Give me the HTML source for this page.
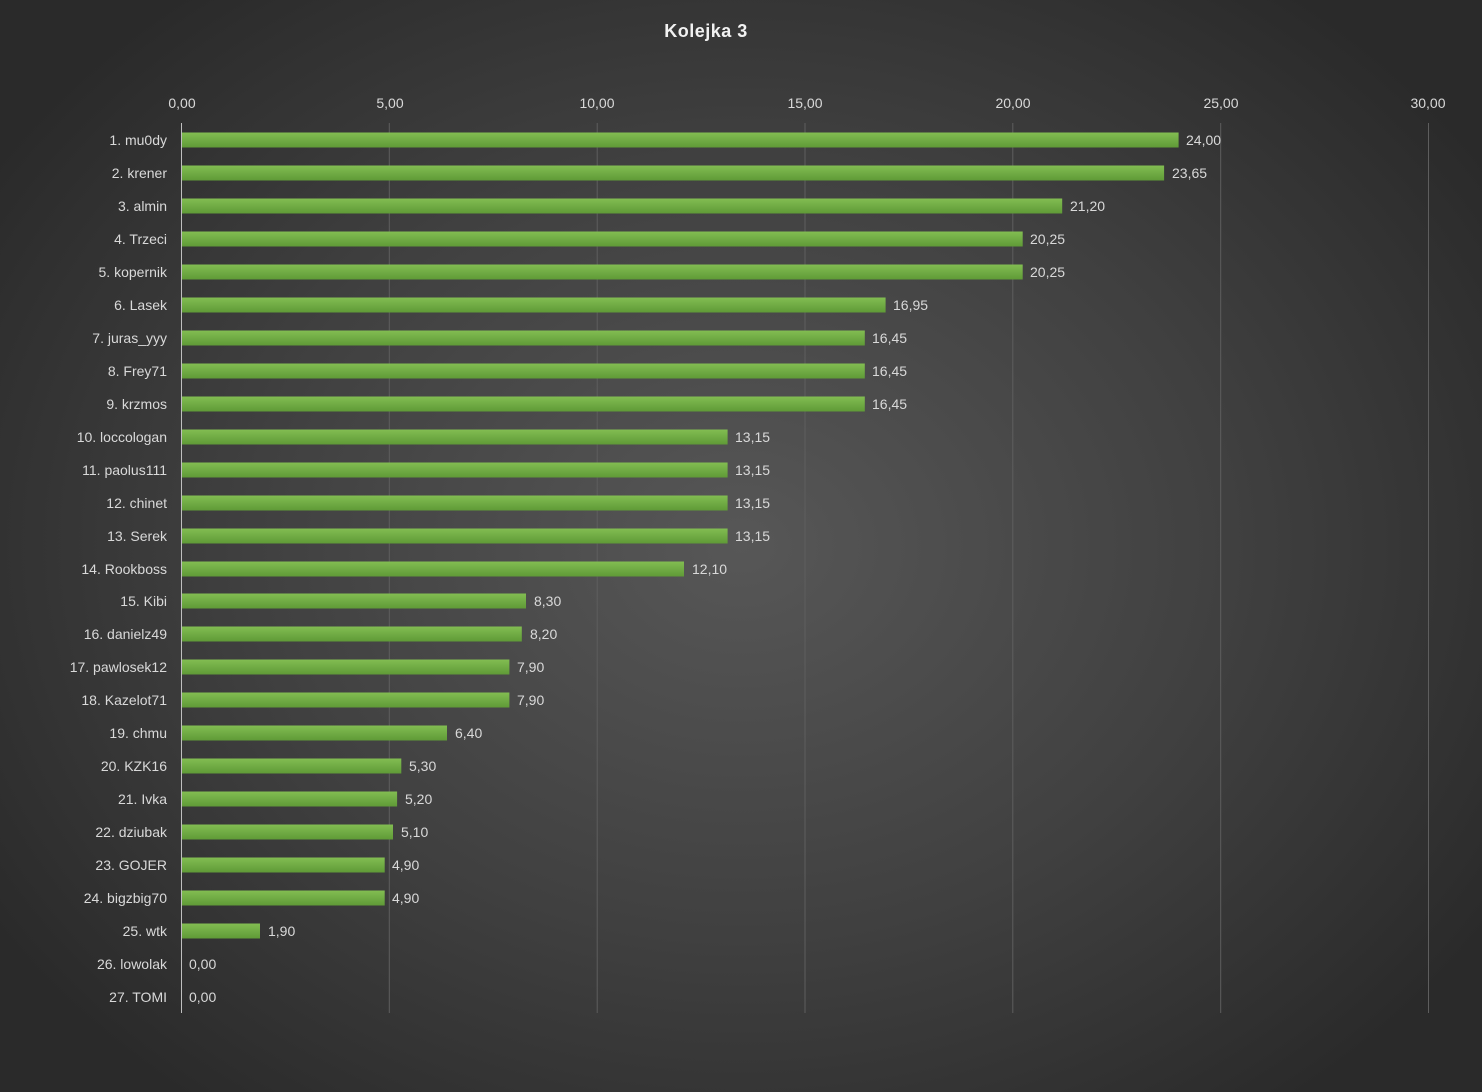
<!DOCTYPE html>
<html><head><meta charset="utf-8"><style>
html,body{margin:0;padding:0}
body{width:1482px;height:1092px;overflow:hidden;background:radial-gradient(ellipse 60% 65% at 50% 50%,#575757 0%,#404040 55%,#2a2a2a 100%);}
svg{display:block}
text{font-family:"Liberation Sans",sans-serif;fill:#d9d9d9;font-size:14px}
</style></head><body>
<svg width="1482" height="1092" viewBox="0 0 1482 1092">
<defs><linearGradient id="g" x1="0" y1="0" x2="0" y2="1"><stop offset="0" stop-color="#82bd52"/><stop offset="1" stop-color="#5f9a37"/></linearGradient></defs>
<text x="706" y="37" text-anchor="middle" style="font-size:18px;font-weight:bold;fill:#f2f2f2;letter-spacing:0.5px">Kolejka  3</text>
<g stroke="#5e5e5e" stroke-width="1">
<line x1="389.3" y1="123" x2="389.3" y2="1013"/><line x1="597.2" y1="123" x2="597.2" y2="1013"/><line x1="805" y1="123" x2="805" y2="1013"/><line x1="1012.8" y1="123" x2="1012.8" y2="1013"/><line x1="1220.7" y1="123" x2="1220.7" y2="1013"/><line x1="1428.5" y1="123" x2="1428.5" y2="1013"/>
</g>
<line x1="181.5" y1="123" x2="181.5" y2="1013" stroke="#bfbfbf" stroke-width="1"/>
<g text-anchor="middle">
<text x="182" y="108">0,00</text><text x="390" y="108">5,00</text><text x="597" y="108">10,00</text><text x="805" y="108">15,00</text><text x="1013" y="108">20,00</text><text x="1221" y="108">25,00</text><text x="1428" y="108">30,00</text>
</g>
<g fill="url(#g)">
<rect x="182" y="132.5" width="996.6" height="15"/>
<rect x="182" y="165.5" width="982.1" height="15"/>
<rect x="182" y="198.5" width="880.2" height="15"/>
<rect x="182" y="231.5" width="840.7" height="15"/>
<rect x="182" y="264.5" width="840.7" height="15"/>
<rect x="182" y="297.5" width="703.6" height="15"/>
<rect x="182" y="330.5" width="682.8" height="15"/>
<rect x="182" y="363.5" width="682.8" height="15"/>
<rect x="182" y="396.5" width="682.8" height="15"/>
<rect x="182" y="429.5" width="545.6" height="15"/>
<rect x="182" y="462.5" width="545.6" height="15"/>
<rect x="182" y="495.5" width="545.6" height="15"/>
<rect x="182" y="528.5" width="545.6" height="15"/>
<rect x="182" y="561.5" width="502" height="15"/>
<rect x="182" y="593.5" width="344" height="15"/>
<rect x="182" y="626.5" width="339.8" height="15"/>
<rect x="182" y="659.5" width="327.4" height="15"/>
<rect x="182" y="692.5" width="327.4" height="15"/>
<rect x="182" y="725.5" width="265" height="15"/>
<rect x="182" y="758.5" width="219.3" height="15"/>
<rect x="182" y="791.5" width="215.1" height="15"/>
<rect x="182" y="824.5" width="211" height="15"/>
<rect x="182" y="857.5" width="202.7" height="15"/>
<rect x="182" y="890.5" width="202.7" height="15"/>
<rect x="182" y="923.5" width="78" height="15"/>
</g>
<g>
<text x="1186" y="145">24,00</text>
<text x="1172" y="178">23,65</text>
<text x="1070" y="211">21,20</text>
<text x="1030" y="244">20,25</text>
<text x="1030" y="277">20,25</text>
<text x="893" y="310">16,95</text>
<text x="872" y="343">16,45</text>
<text x="872" y="376">16,45</text>
<text x="872" y="409">16,45</text>
<text x="735" y="442">13,15</text>
<text x="735" y="475">13,15</text>
<text x="735" y="508">13,15</text>
<text x="735" y="541">13,15</text>
<text x="692" y="574">12,10</text>
<text x="534" y="606">8,30</text>
<text x="530" y="639">8,20</text>
<text x="517" y="672">7,90</text>
<text x="517" y="705">7,90</text>
<text x="455" y="738">6,40</text>
<text x="409" y="771">5,30</text>
<text x="405" y="804">5,20</text>
<text x="401" y="837">5,10</text>
<text x="392" y="870">4,90</text>
<text x="392" y="903">4,90</text>
<text x="268" y="936">1,90</text>
<text x="189" y="969">0,00</text>
<text x="189" y="1002">0,00</text>
</g>
<g text-anchor="end">
<text x="167" y="145">1. mu0dy</text>
<text x="167" y="178">2. krener</text>
<text x="167" y="211">3. almin</text>
<text x="167" y="244">4. Trzeci</text>
<text x="167" y="277">5. kopernik</text>
<text x="167" y="310">6. Lasek</text>
<text x="167" y="343">7. juras_yyy</text>
<text x="167" y="376">8. Frey71</text>
<text x="167" y="409">9. krzmos</text>
<text x="167" y="442">10. loccologan</text>
<text x="167" y="475">11. paolus111</text>
<text x="167" y="508">12. chinet</text>
<text x="167" y="541">13. Serek</text>
<text x="167" y="574">14. Rookboss</text>
<text x="167" y="606">15. Kibi</text>
<text x="167" y="639">16. danielz49</text>
<text x="167" y="672">17. pawlosek12</text>
<text x="167" y="705">18. Kazelot71</text>
<text x="167" y="738">19. chmu</text>
<text x="167" y="771">20. KZK16</text>
<text x="167" y="804">21. Ivka</text>
<text x="167" y="837">22. dziubak</text>
<text x="167" y="870">23. GOJER</text>
<text x="167" y="903">24. bigzbig70</text>
<text x="167" y="936">25. wtk</text>
<text x="167" y="969">26. lowolak</text>
<text x="167" y="1002">27. TOMI</text>
</g>
</svg>
</body></html>
